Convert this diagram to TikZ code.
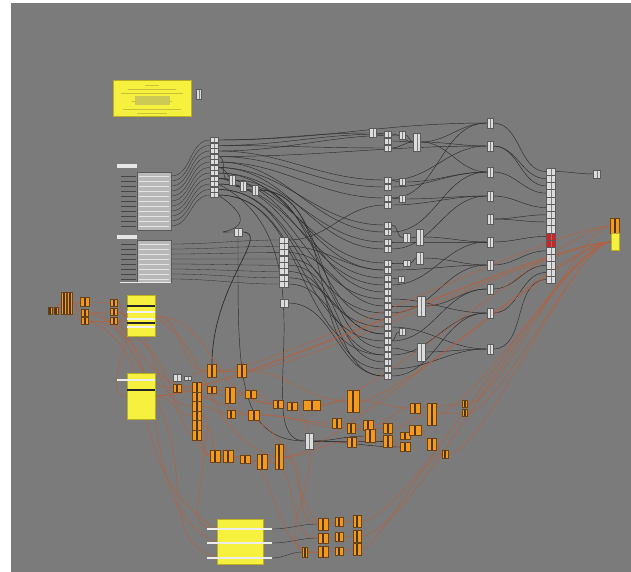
\documentclass[tikz,border=0pt]{standalone}
\usetikzlibrary{calc}
\definecolor{canvas}{HTML}{7B7B7B}
\definecolor{pgray}{HTML}{DCDCDC}
\definecolor{pedge}{HTML}{5A5A5A}
\definecolor{orng}{HTML}{F29A1E}
\definecolor{oedge}{HTML}{6E4210}
\definecolor{odark}{HTML}{4E3512}
\definecolor{ylw}{HTML}{F6F03E}
\definecolor{ylwedge}{HTML}{B8B020}
\definecolor{ylwdark}{HTML}{C8C038}
\definecolor{wirec}{HTML}{2C2C2C}
\definecolor{owc}{HTML}{BC5E38}
\definecolor{redc}{HTML}{D42222}
\definecolor{sldbg}{HTML}{B8B8B8}
\definecolor{lbl}{HTML}{E6E6E6}
\pgfdeclarelayer{bg}
\pgfdeclarelayer{wires}
\pgfsetlayers{bg,wires,main}
\begin{document}
\begin{tikzpicture}[x=1pt,y=-1pt,
  wd/.style={minimum width=#1}, ht/.style={minimum height=#1},
  gp/.style={draw=pedge,fill=pgray,line width=.3pt,inner sep=0pt,outer sep=0pt,
    path picture={\fill[pedge!80] ([xshift=-.5pt]path picture bounding box.north) rectangle ([xshift=.5pt]path picture bounding box.south);}},
  rc/.style={gp,fill=redc},
  oc/.style={draw=oedge,fill=orng,line width=.3pt,inner sep=0pt,outer sep=0pt,
    path picture={\fill[odark] ([xshift=-1pt]path picture bounding box.north) rectangle ([xshift=1pt]path picture bounding box.south);}},
  yp/.style={draw=ylwedge,fill=ylw,line width=.3pt,inner sep=0pt,outer sep=0pt},
  wire/.style={draw=wirec,line width=.45pt},
  owire/.style={draw=owc,line width=.4pt},
]
\begin{pgfonlayer}{bg}
\fill[white] (0,0) rectangle (631,572);
\fill[canvas] (11,3) rectangle (631,572);
\end{pgfonlayer}
\useasboundingbox (0,0) rectangle (631,572);

% ---------- note panel ----------
\node[yp,wd=78,ht=36] (note) at (152,98) {};
\foreach \y/\l in {85/14,89/48,93/62,101/40,109/58,113/30}
  \draw[ylwdark,line width=.6pt] (152-\l/2,\y) -- (152+\l/2,\y);
\fill[ylw!65!gray] (135,96) rectangle (170,105);
\node[gp,wd=5,ht=10] (n0) at (199,94) {};

% ---------- slider panels ----------
\node[fill=lbl,inner sep=0pt,minimum width=20,minimum height=4] (s1lab) at (127,166) {};
\node[fill=sldbg,draw=pedge,line width=.2pt,inner sep=0pt,minimum width=34,minimum height=58] (s1) at (154,201) {};
\foreach \i [evaluate=\i as \yy using 176+5*(\i-1)] in {1,...,11} {
  \draw[white!80!gray,line width=.45pt] (139,\yy) -- (169,\yy);
  \draw[gray!55!black,line width=.5pt] (121,\yy) -- (136,\yy);
  \coordinate (s1o\i) at (171,\yy);
}
\node[fill=lbl,inner sep=0pt,minimum width=20,minimum height=4] (s2lab) at (127,237) {};
\node[fill=sldbg,draw=pedge,line width=.2pt,inner sep=0pt,minimum width=34,minimum height=42] (s2) at (154,261) {};
\foreach \i [evaluate=\i as \yy using 244+5*(\i-1)] in {1,...,8} {
  \draw[white!80!gray,line width=.45pt] (139,\yy) -- (169,\yy);
  \draw[gray!55!black,line width=.5pt] (121,\yy) -- (136,\yy);
  \coordinate (s2o\i) at (171,\yy);
}
\draw[white!85!gray,line width=.8pt] (120,282) -- (171,282);

% ---------- left parameter column ----------
\foreach \i [evaluate=\i as \yy using 140+5.5*(\i-1)] in {1,...,11}
  \node[gp,wd=8,ht=5] (L\i) at (214,\yy) {};
\node[gp,wd=6,ht=10] (g1) at (232,180) {};
\node[gp,wd=6,ht=10] (g2) at (243,186) {};
\node[gp,wd=6,ht=10] (g3) at (255,190) {};
\node[gp,wd=8,ht=8] (g4) at (238,232) {};
\foreach \i [evaluate=\i as \yy using 240+6.3*(\i-1)] in {1,...,8}
  \node[gp,wd=9,ht=6] (G\i) at (284,\yy) {};
\node[gp,wd=8,ht=8] (g6) at (284,303) {};

% ---------- middle gray column ----------
\node[gp,wd=7,ht=9] (m0) at (373,133) {};
\node[gp,wd=7,ht=6] (m1) at (388,134) {};
\node[gp,wd=7,ht=6] (m2) at (388,141) {};
\node[gp,wd=7,ht=6] (m3) at (388,148) {};
\node[gp,wd=6,ht=8] (m4) at (402,135) {};
\node[gp,wd=7,ht=18] (m5) at (417,142) {};
\foreach \y [count=\i] in {180,187,198,205,225,232,242,249,263,270,278,285,292,299,306,313,320,327,334,341,348,355,362,369,376}
  \node[gp,wd=7,ht=6] (C\i) at (388,\y) {};
\node[gp,wd=6,ht=7] (d1) at (402,182) {};
\node[gp,wd=6,ht=7] (d2) at (402,199) {};
\node[gp,wd=7,ht=9] (d3) at (407,238) {};
\node[gp,wd=7,ht=6] (d4) at (407,263) {};
\node[gp,wd=6,ht=6] (d5) at (401,279) {};
\node[gp,wd=6,ht=7] (d6) at (402,332) {};
\node[gp,wd=7,ht=16] (e1) at (420,237) {};
\node[gp,wd=7,ht=12] (e2) at (420,258) {};
\node[gp,wd=8,ht=20] (e3) at (421,306) {};
\node[gp,wd=8,ht=18] (e4) at (421,352) {};

% ---------- right column ----------
\foreach \y [count=\i] in {123,146,172,196,219,242,265,289,313,349}
  \node[gp,wd=6,ht=10] (r\i) at (490,\y) {};
\foreach \i [evaluate=\i as \yy using 168+7.2*(\i-0.5)] in {1,...,16}
  \node[gp,wd=9,ht=7.2] (B\i) at (551,\yy) {};
\node[rc,wd=9,ht=7.2] at (B10) {};
\node[rc,wd=9,ht=7.2] at (B11) {};
\node[gp,wd=7,ht=8] (out1) at (597,174) {};
\node[oc,wd=9,ht=15] (yO) at (615,226) {};
\node[yp,wd=8,ht=17] (yY) at (615,242) {};

% ---------- bottom-left orange cluster ----------
\node[oc,wd=4,ht=7] (a1) at (50,311) {};
\node[oc,wd=4,ht=7] (a2) at (56,311) {};
\node[oc,wd=5,ht=22] (a3) at (64,303) {};
\node[oc,wd=5,ht=22] (a4) at (70,303) {};
\node[oc,wd=9,ht=9] (a5) at (85,302) {};
\node[oc,wd=7,ht=7] (a6) at (85,313) {};
\node[oc,wd=7,ht=7] (a7) at (85,321) {};
\node[oc,wd=7,ht=7] (a8) at (114,303) {};
\node[oc,wd=7,ht=7] (a9) at (114,312) {};
\node[oc,wd=7,ht=7] (a10) at (114,321) {};
\node[yp,wd=28,ht=41] (Y1) at (141,316) {};
\foreach \y/\c in {306/black!85,312/white!90!gray,319/white!90!gray,323/black!85,327/white!90!gray}
  \draw[\c,line width=1.3pt] (127,\y) -- (155,\y);
\node[yp,wd=28,ht=46] (Y2) at (141,396) {};
\draw[white!85!gray,line width=1.5pt] (117,380) -- (155,380);
\draw[black!85,line width=1.3pt] (127,390) -- (155,390);

% ---------- middle orange cluster ----------
\node[gp,wd=8,ht=7] (b1) at (177,378) {};
\node[oc,wd=8,ht=8] (b2) at (177,388) {};
\node[gp,wd=7,ht=4] (b3) at (188,378) {};
\foreach \i [evaluate=\i as \yy using 387+9.6*(\i-1)] in {1,...,6}
  \node[oc,wd=9,ht=9.6] (b4\i) at (197,\yy) {};
\node[oc,wd=9,ht=13] (b5) at (212,371) {};
\node[oc,wd=9,ht=13] (b6) at (242,371) {};
\node[oc,wd=9,ht=7] (b7) at (212,390) {};
\node[oc,wd=10,ht=16] (b8) at (230,395) {};
\node[oc,wd=11,ht=8] (b9) at (251,394) {};
\node[oc,wd=8,ht=8] (b10) at (231,414) {};
\node[oc,wd=11,ht=10] (b11) at (254,415) {};
\node[oc,wd=10,ht=8] (b12) at (278,404) {};
\node[oc,wd=10,ht=8] (b13) at (292,406) {};
\node[oc,wd=17,ht=10] (b14) at (312,405) {};
\node[oc,wd=12,ht=22] (b15) at (353,401) {};
\node[oc,wd=9,ht=10] (b16) at (337,423) {};
\node[oc,wd=8,ht=10] (b17) at (351,428) {};
\node[oc,wd=10,ht=10] (b18) at (368,425) {};
\node[oc,wd=9,ht=10] (b19) at (388,428) {};
\node[oc,wd=10,ht=10] (b20) at (415,408) {};
\node[oc,wd=9,ht=22] (b21) at (432,414) {};
\node[oc,wd=5,ht=7] (b22) at (465,404) {};
\node[oc,wd=5,ht=7] (b23) at (465,413) {};
\node[gp,wd=8,ht=16] (gx) at (309,441) {};
\node[oc,wd=9,ht=10] (b24) at (352,442) {};
\node[oc,wd=10,ht=13] (b25) at (370,436) {};
\node[oc,wd=9,ht=12] (b26) at (388,441) {};
\node[oc,wd=10,ht=7] (b27) at (405,436) {};
\node[oc,wd=10,ht=9] (b28) at (405,447) {};
\node[oc,wd=12,ht=10] (b29) at (415,430) {};
\node[oc,wd=9,ht=12] (b30) at (432,444) {};
\node[oc,wd=6,ht=8] (b31) at (445,454) {};
\node[oc,wd=10,ht=12] (b32) at (215,456) {};
\node[oc,wd=10,ht=12] (b33) at (228,456) {};
\node[oc,wd=10,ht=8] (b34) at (245,459) {};
\node[oc,wd=10,ht=15] (b35) at (262,462) {};
\node[oc,wd=8,ht=25] (b36) at (279,457) {};

% ---------- bottom panel ----------
\node[yp,wd=46,ht=45] (Y3) at (240,542) {};
\foreach \y [count=\i] in {529,543,558} {
  \draw[white!85!gray,line width=1.5pt] (207,\y) -- (272,\y);
  \coordinate (Y3r\i) at (217,\y);
  \coordinate (Y3o\i) at (272,\y);
}
\node[oc,wd=10,ht=12] (c1) at (323,524) {};
\node[oc,wd=8,ht=9] (c2) at (339,522) {};
\node[oc,wd=8,ht=12] (c3) at (357,521) {};
\node[oc,wd=10,ht=10] (c4) at (323,538) {};
\node[oc,wd=8,ht=9] (c5) at (339,537) {};
\node[oc,wd=8,ht=12] (c6) at (357,536) {};
\node[oc,wd=5,ht=10] (c7) at (305,552) {};
\node[oc,wd=10,ht=11] (c8) at (323,552) {};
\node[oc,wd=8,ht=8] (c9) at (339,551) {};
\node[oc,wd=8,ht=12] (c10) at (357,549) {};

% ---------- wires ----------
\begin{pgfonlayer}{wires}
\foreach \i in {1,...,11} \draw[wire,line width=.3pt] (s1o\i) to[out=0,in=180] (L\i.west);
\foreach \i in {1,...,8} \draw[wire,line width=.3pt] (s2o\i) to[out=0,in=180] (G\i.west);
\foreach \a/\b in {L1/m0,L1/r1,L2/m1,L2/m3,L3/m4,L3/C1,L4/C2,L4/r2,L5/C3,L5/C6,
  L6/C5,L6/C8,L7/C7,L7/C10,L8/C9,L8/C12,L9/C11,L9/C14,L10/C16,L10/C18,L11/C20,L11/C22,
  L4/g1,L6/g2,L8/g3,g1/C13,g2/C17,g3/C19,g3/C24,
  G1/C4,G2/C10,G3/C15,G4/C21,G5/C23,G6/C25,G7/C19,G8/C22,g6/C25,
  m0/m1,m1/m5,m2/m5,m3/m5,m4/m5,m5/r1,m5/r2,m5/r3,
  C1/d1,C3/d2,d1/r3,d2/r4,C5/d3,d3/e1,e1/r6,C9/d4,d4/e2,e2/r7,C11/d5,C15/e3,e3/r8,C20/d6,C21/e4,e4/r10,
  C1/r2,C2/r3,C3/r1,C4/r4,C6/r3,C7/r6,C8/r4,C10/r7,C12/r6,C14/r9,C16/r7,C18/r10,C20/r8,C22/r9,C24/r10,C25/r9,
  r1/B1,r2/B2,r3/B4,r4/B6,r5/B8,r6/B10,r7/B12,r8/B14,r9/B15,r10/B16,r2/B3,r5/B7,
  B1/out1,gx/b25,gx/b26,gx/b28}
  \draw[wire] (\a.east) to[out=0,in=180] (\b.west);
\draw[wire] (L11.east) .. controls +(60,40) and +(-40,0) .. (g4.west);
\draw[wire] (g4.south) .. controls +(0,130) and +(-70,0) .. (gx.west);
\draw[wire,line width=.7pt] (g4.east) .. controls +(30,0) and +(0,-80) .. (b5.north);
\draw[wire] (L9.east) .. controls +(120,60) and +(-60,0) .. (gx.west);
\foreach \i in {1,2,3} \draw[wire,line width=.35pt] (Y3o\i) to[out=0,in=180] (c\the\numexpr 3*\i-2\relax.west);
% orange, short
\foreach \a/\b in {a1/a3,a2/a3,a4/a5,a4/a6,a4/a7,a5/a8,a6/a9,a7/a10,a8/Y1,a9/Y1,a10/Y1,
  a6/b2,a7/b41,a10/b43,a9/Y2,Y1/b5,Y1/b12,Y2/b44,Y2/b7,b1/b5,
  b41/b7,b42/b8,b43/b10,b44/b32,b45/b33,b7/b9,b8/b12,b9/b12,b5/b6,b12/b13,b13/b14,b14/b15,
  b15/b20,b10/b11,b11/b16,b11/b17,b16/b18,b17/b19,b18/b20,b19/b21,b20/b22,b21/b23,
  b24/b25,b25/b26,b26/b28,b27/b29,b29/b30,b30/b31,b32/b33,b33/b34,b34/b35,b35/b36,b36/b24,b6/b15,
  b36/c1,b35/c4,b33/c8,c1/c2,c2/c3,c4/c5,c5/c6,c7/c8,c8/c9,c9/c10}
  \draw[owire] (\a.east) to[out=0,in=180] (\b.west);
% orange, long and nearly straight
\foreach \a/\b in {b2/yY,b6/yY,b15/yY,b21/yY,b23/yY,b36/yY,c3/yY,c6/yY,b14/yO,Y2/yY,b5/yO,b22/yO,b31/yY,c10/b31}
  \draw[owire] (\a.east) to[out=0,in=180,looseness=.35] (\b.west);
\draw[owire] (a7.east) .. controls +(80,30) and +(-100,-60) .. (Y3r1);
\draw[owire] (a10.east) .. controls +(60,80) and +(-80,-40) .. (Y3r2);
\draw[owire] (Y2.east) .. controls +(40,80) and +(-60,-20) .. (Y3r3);
\draw[owire] (b46.east) .. controls +(10,50) and +(-40,0) .. (Y3r1);
\draw[owire] (a6.east) .. controls +(110,40) and +(-60,-50) .. (b32.west);
\draw[owire] (Y1.east) .. controls +(70,50) and +(-80,-30) .. (b36.west);
\draw[owire] (b13.east) .. controls +(40,60) and +(-30,-20) .. (c7.west);
\draw[owire] (b42.east) .. controls +(120,40) and +(-40,-50) .. (c1.west);
\end{pgfonlayer}
\end{tikzpicture}
\end{document}
